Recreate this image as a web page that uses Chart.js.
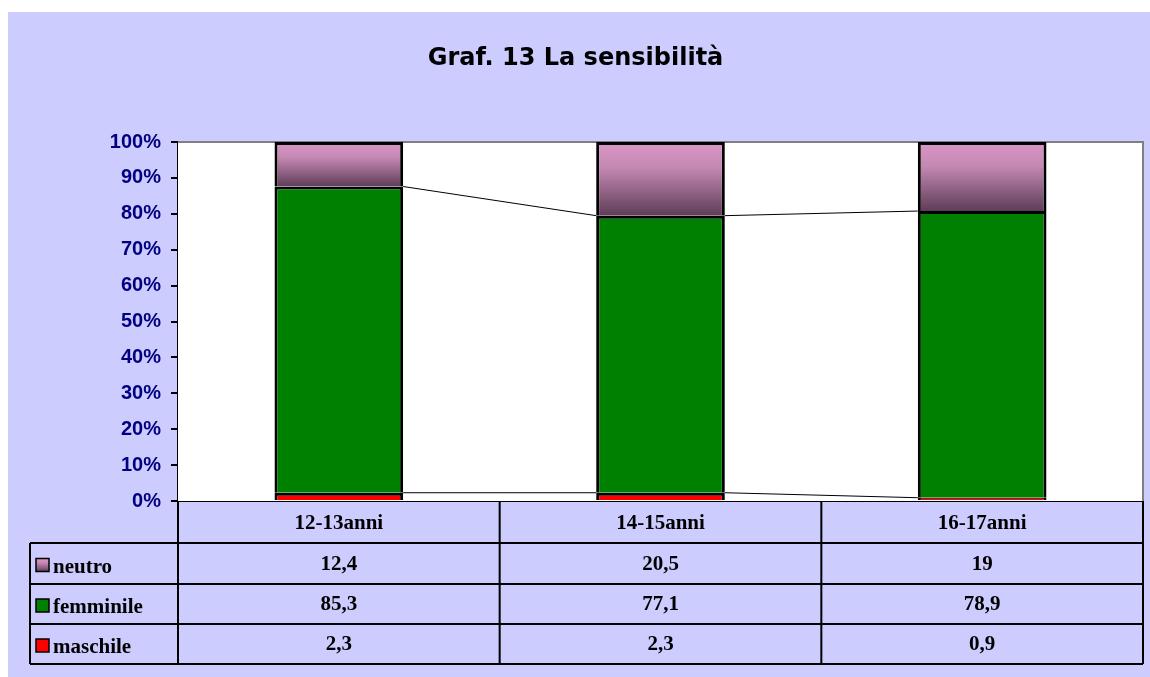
<!DOCTYPE html>
<html>
<head>
<meta charset="utf-8">
<script src="https://cdn.jsdelivr.net/npm/chart.js@4.4.0/dist/chart.umd.min.js"></script>
<style>
body{margin:0;background:#fff;}
#box{position:absolute;left:8px;top:12px;width:1142px;height:665px;background:#ccccff;}
</style>
</head>
<body>
<div id="box"><canvas id="barChart" width="1142" height="665"></canvas></div>
<script>
// values as shown in the data table
var categories = ['12-13anni', '14-15anni', '16-17anni'];
var maschile = [2.3, 2.3, 0.9];
var femminile = [85.3, 77.1, 78.9];
var neutro = [12.4, 20.5, 19];
var seriesNames = ['neutro', 'femminile', 'maschile'];

// 100% stacked -> share of each column total
function share(arr){
    return arr.map(function(v, i){
        return v / (maschile[i] + femminile[i] + neutro[i]) * 100;
    });
}
var pMaschile = share(maschile);
var pFemminile = share(femminile);
var pNeutro = share(neutro);

function fmt(v){ return String(v).replace('.', ','); }

function neutroGradient(c, top, bot){
    var g = c.createLinearGradient(0, top, 0, bot);
    g.addColorStop(0, '#da97c7');
    g.addColorStop(0.35, '#c488b3');
    g.addColorStop(1, '#5e3d57');
    return g;
}

function neutroFill(ctx){
    var chart = ctx.chart;
    var y = chart.scales.y;
    if(!y || ctx.type !== 'data') return '#b07aa0';
    var top = y.getPixelForValue(100);
    var bot = y.getPixelForValue(100 - pNeutro[ctx.dataIndex]);
    if(!isFinite(top) || !isFinite(bot) || top === bot) return '#b07aa0';
    return neutroGradient(chart.ctx, top, bot);
}

var rowH = [42, 41, 40, 40];
var serifBold = 'bold 21px "Liberation Serif", "Times New Roman", serif';

var plotFrame = {
    id: 'plotFrame',
    beforeDatasetsDraw: function(chart){
        var c = chart.ctx, a = chart.chartArea;
        c.save();
        c.fillStyle = '#fff';
        c.fillRect(a.left, a.top, a.right - a.left, a.bottom - a.top);
        c.strokeStyle = '#808080';
        c.lineWidth = 2;
        c.beginPath();
        c.moveTo(a.left, a.top);
        c.lineTo(a.right, a.top);
        c.lineTo(a.right, a.bottom);
        c.stroke();
        c.restore();
    }
};

// thin lines joining the segment tops between bars
var seriesLines = {
    id: 'seriesLines',
    afterDatasetsDraw: function(chart){
        var c = chart.ctx;
        c.save();
        c.strokeStyle = '#000';
        c.lineWidth = 1;
        [0, 1].forEach(function(d){
            var els = chart.getDatasetMeta(d).data;
            for(var i = 0; i < els.length - 1; i++){
                var a = els[i], b = els[i + 1];
                c.beginPath();
                c.moveTo(a.x + a.width / 2, a.y);
                c.lineTo(b.x - b.width / 2, b.y);
                c.stroke();
            }
        });
        c.restore();
    }
};

var dataTable = {
    id: 'dataTable',
    afterDraw: function(chart){
        var c = chart.ctx, a = chart.chartArea, x = chart.scales.x;
        var left = 22;
        var bounds = [a.left];
        for(var i = 1; i < categories.length; i++){
            bounds.push((x.getPixelForValue(i - 1) + x.getPixelForValue(i)) / 2);
        }
        bounds.push(a.right);
        var ys = [a.bottom];
        rowH.forEach(function(h){ ys.push(ys[ys.length - 1] + h); });
        var bottom = ys[ys.length - 1];

        c.save();
        c.strokeStyle = '#000';
        c.lineWidth = 2;
        c.beginPath();
        for(var r = 1; r < ys.length; r++){
            c.moveTo(left, ys[r]);
            c.lineTo(a.right, ys[r]);
        }
        bounds.forEach(function(bx){
            c.moveTo(bx, a.bottom);
            c.lineTo(bx, bottom);
        });
        c.moveTo(left, ys[1]);
        c.lineTo(left, bottom);
        c.stroke();

        var rows = [neutro, femminile, maschile];
        var keyFill = ['', '#008000', '#ff0000'];
        c.font = serifBold;
        c.fillStyle = '#000';
        c.textBaseline = 'middle';
        rows.forEach(function(arr, r){
            var cy = (ys[r + 1] + ys[r + 2]) / 2 + 1;
            // legend key
            var kx = left + 6, ky = cy - 6;
            c.fillStyle = r === 0 ? neutroGradient(c, ky, ky + 13) : keyFill[r];
            c.fillRect(kx, ky, 13, 13);
            c.lineWidth = 1.5;
            c.strokeStyle = '#000';
            c.strokeRect(kx, ky, 13, 13);
            c.fillStyle = '#000';
            c.textAlign = 'left';
            c.textBaseline = 'middle';
            c.fillText(seriesNames[r], kx + 17, cy + 3);
            c.textAlign = 'center';
            arr.forEach(function(v, i){
                c.fillText(fmt(v), (bounds[i] + bounds[i + 1]) / 2, cy);
            });
        });
        c.restore();
    }
};

var ctx = document.getElementById('barChart').getContext('2d');
var barChart = new Chart(ctx, {
    type: 'bar',
    data: {
        labels: categories,
        datasets: [
            { label: 'maschile', data: pMaschile, backgroundColor: '#ff0000' },
            { label: 'femminile', data: pFemminile, backgroundColor: '#008000' },
            { label: 'neutro', data: pNeutro, backgroundColor: neutroFill }
        ]
    },
    options: {
        responsive: false,
        animation: false,
        datasets: {
            bar: {
                borderColor: '#000',
                borderWidth: 3,
                barPercentage: 0.4,
                categoryPercentage: 1.0
            }
        },
        layout: { padding: { left: 0, right: 7, top: 0, bottom: 134 } },
        plugins: {
            legend: { display: false },
            tooltip: { enabled: false },
            title: {
                display: true,
                text: 'Graf. 13 La sensibilità',
                color: '#000',
                font: { family: '"DejaVu Sans", sans-serif', size: 24, weight: 'bold' },
                padding: { top: 32, bottom: 69.2 }
            }
        },
        scales: {
            x: {
                stacked: true,
                grid: { display: false },
                border: { display: true, color: '#000', width: 2 },
                ticks: { color: '#000', font: { family: '"Liberation Serif", serif', size: 21, weight: 'bold' }, padding: 2 },
                afterFit: function(s){ s.height = 42; }
            },
            y: {
                stacked: true,
                min: 0,
                max: 100,
                grid: { drawOnChartArea: false, drawTicks: true, tickLength: 7, color: '#000', lineWidth: 2 },
                border: { display: true, color: '#000', width: 2 },
                ticks: {
                    stepSize: 10,
                    color: '#000080',
                    padding: 10,
                    font: { family: '"Liberation Sans", Arial, sans-serif', size: 20, weight: 'bold' },
                    callback: function(v){ return v + '%'; }
                },
                afterFit: function(s){ s.width = 170; }
            }
        }
    },
    plugins: [plotFrame, seriesLines, dataTable]
});
</script>
</body>
</html>
